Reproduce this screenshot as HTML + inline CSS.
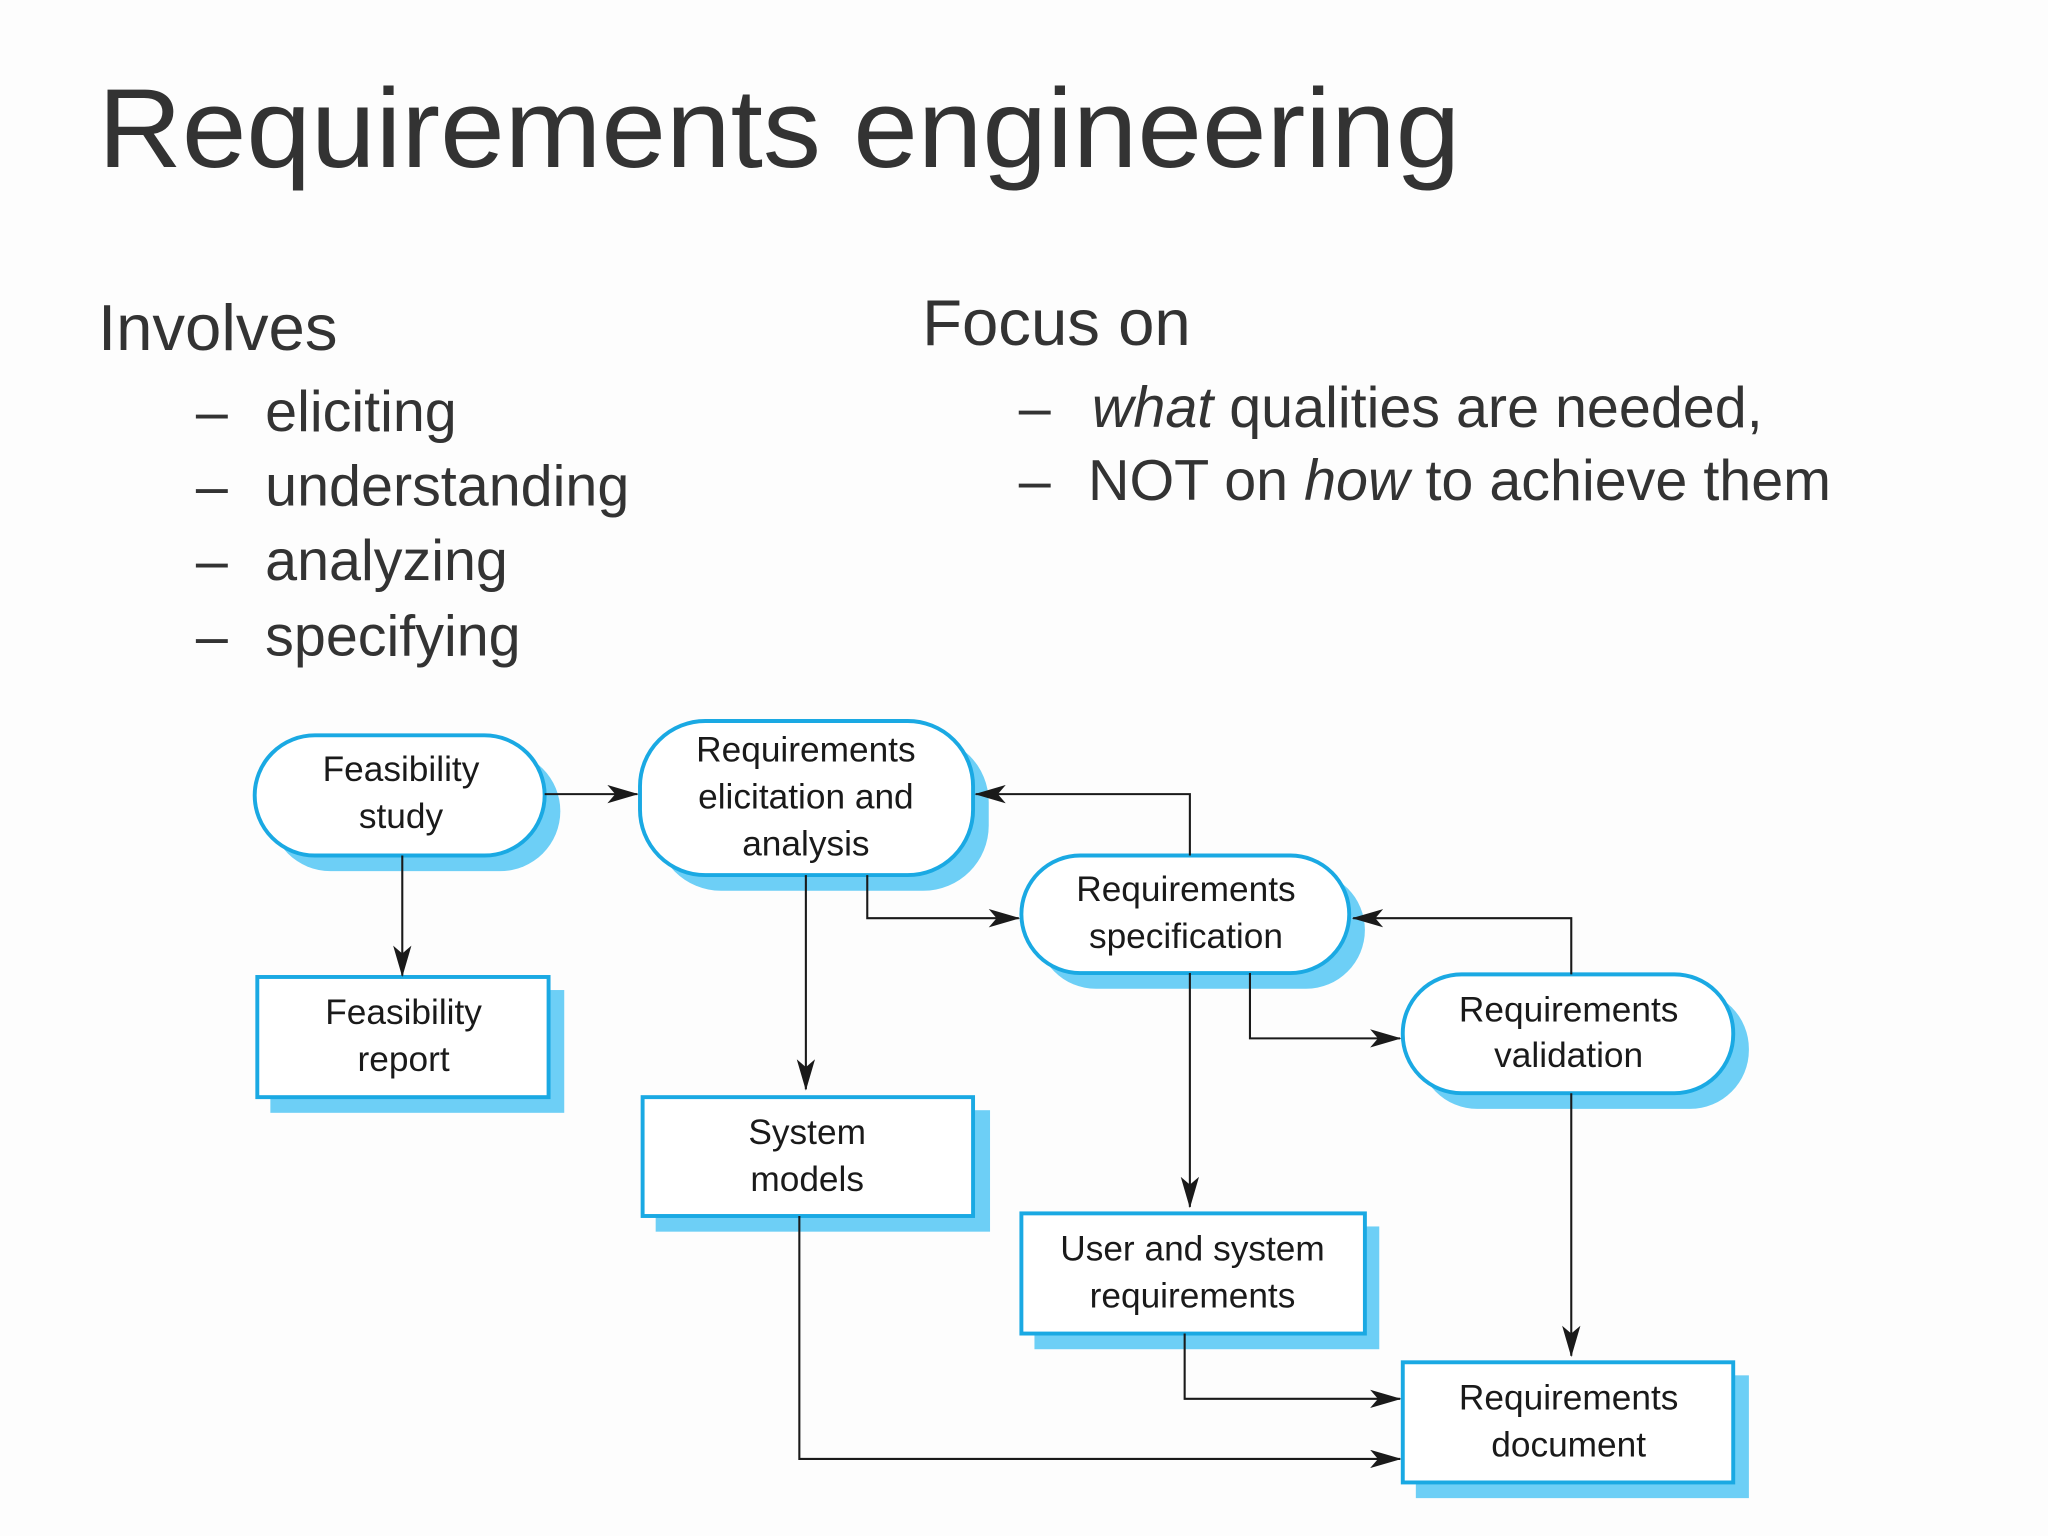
<!DOCTYPE html>
<html><head><meta charset="utf-8"><style>
html,body{margin:0;padding:0;background:#fdfdfd;}
svg{display:block;}
</style></head><body>
<svg width="2048" height="1536" viewBox="0 0 1568 1176" xmlns="http://www.w3.org/2000/svg">
<defs>
<marker id="a" viewBox="0 0 24 14" refX="23" refY="7" markerWidth="24" markerHeight="14" markerUnits="userSpaceOnUse" orient="auto">
<path d="M0,0 L24,7 L0,14 L6,7 Z" fill="#1a1a1a"/>
</marker>
</defs>
<rect width="1568" height="1176" fill="#fdfdfd"/>
<g font-family="Liberation Sans, sans-serif" fill="#333">
<text x="75" y="128" font-size="86" textLength="1043" lengthAdjust="spacingAndGlyphs">Requirements engineering</text>
<text x="75" y="268" font-size="50">Involves</text>
<text x="706" y="264" font-size="50">Focus on</text>
<g font-size="44">
<text x="150" y="330">–</text><text x="203" y="330">eliciting</text>
<text x="150" y="387">–</text><text x="203" y="387">understanding</text>
<text x="150" y="444">–</text><text x="203" y="444">analyzing</text>
<text x="150" y="502">–</text><text x="203" y="502">specifying</text>
<text x="780" y="327">–</text><text x="836" y="327"><tspan font-style="italic">what</tspan> qualities are needed,</text>
<text x="780" y="383">–</text><text x="833" y="383">NOT on <tspan font-style="italic">how</tspan> to achieve them</text>
</g>
</g>
<!-- shadows -->
<g fill="#6dcff6">
<rect x="207" y="575" width="222" height="92" rx="46"/>
<rect x="502" y="564" width="255" height="118" rx="50"/>
<rect x="794" y="667" width="251" height="90" rx="45"/>
<rect x="1086" y="758" width="253" height="91" rx="45"/>
<rect x="207" y="758" width="225" height="94"/>
<rect x="502" y="850" width="256" height="93"/>
<rect x="792" y="939" width="264" height="94"/>
<rect x="1084" y="1053" width="255" height="94"/>
</g>
<g fill="#fff" stroke="#1aa9e3" stroke-width="3">
<rect x="195" y="563" width="222" height="92" rx="46"/>
<rect x="490" y="552" width="255" height="118" rx="50"/>
<rect x="782" y="655" width="251" height="90" rx="45"/>
<rect x="1074" y="746" width="253" height="91" rx="45"/>
<rect x="197" y="748" width="223" height="92"/>
<rect x="492" y="840" width="253" height="91"/>
<rect x="782" y="929" width="263" height="92"/>
<rect x="1074" y="1043" width="253" height="92"/>
</g>
<g fill="none" stroke="#1a1a1a" stroke-width="1.6" marker-end="url(#a)">
<path d="M417,608 H488"/>
<path d="M308,655 V747"/>
<path d="M617,670 V834"/>
<path d="M664,670 V703 H780"/>
<path d="M911,655 V608 H747"/>
<path d="M911,745 V924"/>
<path d="M957,745 V795 H1072"/>
<path d="M1203,746 V703 H1036"/>
<path d="M1203,837 V1038"/>
<path d="M907,1021 V1071 H1072"/>
<path d="M612,931 V1117 H1072"/>
</g>
<g font-family="Liberation Sans, sans-serif" font-size="27" fill="#1a1a1a" text-anchor="middle">
<text x="307" y="598">Feasibility</text><text x="307" y="634">study</text>
<text x="617" y="583">Requirements</text><text x="617" y="619">elicitation and</text><text x="617" y="655">analysis</text>
<text x="908" y="690">Requirements</text><text x="908" y="726">specification</text>
<text x="1201" y="782">Requirements</text><text x="1201" y="817">validation</text>
<text x="309" y="784">Feasibility</text><text x="309" y="820">report</text>
<text x="618" y="876">System</text><text x="618" y="912">models</text>
<text x="913" y="965">User and system</text><text x="913" y="1001">requirements</text>
<text x="1201" y="1079">Requirements</text><text x="1201" y="1115">document</text>
</g>
</svg>
</body></html>
